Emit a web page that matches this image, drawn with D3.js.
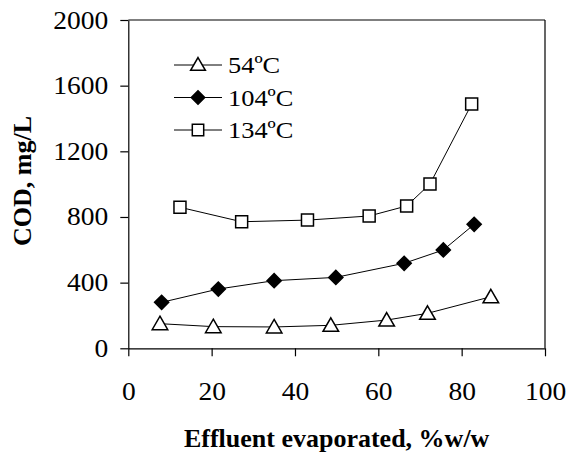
<!DOCTYPE html>
<html><head><meta charset="utf-8">
<script src="https://cdn.jsdelivr.net/npm/d3@7"></script>
<style>
body{margin:0;background:#fff;}
svg{display:block;font-family:"Liberation Serif","Times New Roman",serif;}
</style></head>
<body><svg id="c" width="567" height="459"></svg>
<script>
const seriesNames = ["54ºC", "104ºC", "134ºC"];
const x54 = [7.6, 20.4, 35, 48.6, 62, 71.8, 87];
const y54 = [150, 132, 130, 140, 172, 213, 314];
const x104 = [8.0, 21.6, 35, 49.8, 66.2, 75.6, 83];
const y104 = [280, 361, 412, 432, 518, 599, 755];
const x134 = [12.4, 27.2, 43, 57.8, 66.8, 72.4, 82.4];
const y134 = [859, 771, 781, 806, 867, 1001, 1488];
const xTicks = [0, 20, 40, 60, 80, 100];
const yTicks = [0, 400, 800, 1200, 1600, 2000];

const svg = d3.select("#c");
const x = d3.scaleLinear().domain([0, 100]).range([128.3, 545]);
const y = d3.scaleLinear().domain([0, 2000]).range([348.3, 20]);

function widen(sel, f) {
  sel.each(function () {
    const w = this.getComputedTextLength();
    d3.select(this).attr("textLength", w * f).attr("lengthAdjust", "spacingAndGlyphs");
  });
}

// frame top & right
svg.append("line").attr("x1", x(0)).attr("x2", x(100)).attr("y1", y(2000)).attr("y2", y(2000)).attr("stroke", "#000").attr("stroke-width", 1.2);
svg.append("line").attr("x1", x(100)).attr("x2", x(100)).attr("y1", y(0)).attr("y2", y(2000)).attr("stroke", "#000").attr("stroke-width", 1.2);

const xAxis = svg.append("g").attr("transform", `translate(0,${y(0)})`)
  .call(d3.axisBottom(x).tickValues(xTicks).tickSizeInner(8).tickSizeOuter(0).tickPadding(26).tickFormat(d3.format("d")));
const yAxis = svg.append("g").attr("transform", `translate(${x(0)},0)`)
  .call(d3.axisLeft(y).tickValues(yTicks).tickSizeInner(8).tickSizeOuter(0).tickPadding(12).tickFormat(d3.format("d")));
[xAxis, yAxis].forEach(g => {
  g.selectAll("path,line").attr("stroke", "#000").attr("stroke-width", 1.2);
  g.selectAll("text").attr("fill", "#000").style("font-family", "'Liberation Serif','Times New Roman',serif").style("font-size", "25px");
  widen(g.selectAll("text"), 1.1);
});

svg.append("text").attr("x", (x(0) + x(100)) / 2).attr("y", 447).attr("text-anchor", "middle")
  .style("font-size", "26px").style("font-weight", "bold").text("Effluent evaporated, %w/w");
svg.append("text").attr("transform", "translate(31,181) rotate(-90)").attr("text-anchor", "middle")
  .style("font-size", "26px").style("font-weight", "bold").text("COD, mg/L");

const line = d3.line().x(d => x(d[0])).y(d => y(d[1]));
const series = [
  {name: seriesNames[0], pts: d3.zip(x54, y54), sym: d3.symbolTriangle, size: 105, fill: "#fff", rot: 0, dy: 1.5},
  {name: seriesNames[1], pts: d3.zip(x104, y104), sym: d3.symbolSquare, size: 100, fill: "#000", rot: 45, dy: 0},
  {name: seriesNames[2], pts: d3.zip(x134, y134), sym: d3.symbolSquare, size: 144, fill: "#fff", rot: 0, dy: 0}
];
series.forEach(s => {
  svg.append("path").attr("d", line(s.pts)).attr("fill", "none").attr("stroke", "#000").attr("stroke-width", 1);
  svg.selectAll(null).data(s.pts).enter().append("path")
    .attr("transform", d => `translate(${x(d[0])},${y(d[1]) + s.dy}) rotate(${s.rot})`)
    .attr("d", d3.symbol().type(s.sym).size(s.size))
    .attr("fill", s.fill).attr("stroke", "#000").attr("stroke-width", 1.5);
});

// legend
const lg = svg.append("g");
series.forEach((s, i) => {
  const cy = 65 + i * 32.5;
  lg.append("line").attr("x1", 174).attr("x2", 222).attr("y1", cy).attr("y2", cy).attr("stroke", "#000").attr("stroke-width", 1);
  lg.append("path").attr("transform", `translate(198,${cy + s.dy * 0.7}) rotate(${s.rot})`)
    .attr("d", d3.symbol().type(s.sym).size(s.size * 0.9))
    .attr("fill", s.fill).attr("stroke", "#000").attr("stroke-width", 1.5);
  const t = lg.append("text").attr("x", 228).attr("y", cy + 8).style("font-size", "24px").text(s.name);
  widen(t, 1.1);
});
</script></body></html>
